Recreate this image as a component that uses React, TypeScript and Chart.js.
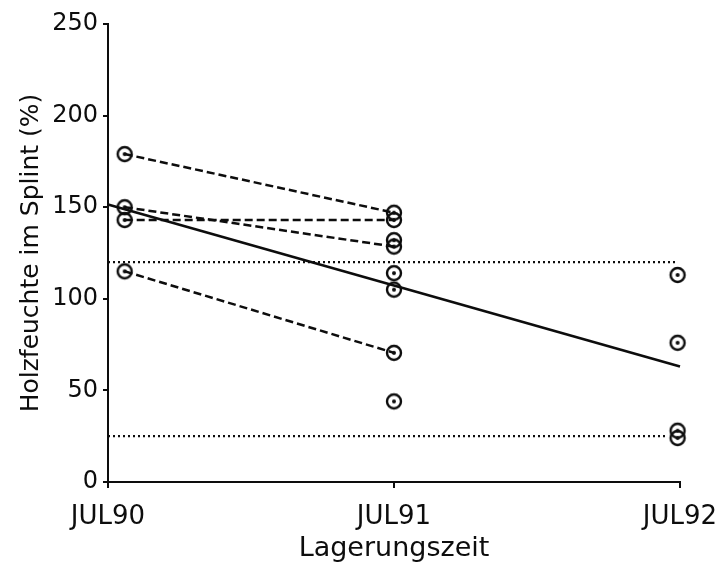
import { useEffect, useRef } from 'react';
import { Chart, registerables } from 'chart.js';

Chart.register(...registerables);

// x axis: months since JUL90
const xTickValues = [0, 12, 24];
const xTickLabels = ['JUL90', 'JUL91', 'JUL92'];

// sampling positions (months since JUL90)
const sampleX = [0.7, 12, 23.9];
const moistureJul90 = [179, 150, 143, 115];
const moistureJul91 = [147, 143, 132, 128.5, 114, 105, 70.5, 44];
const moistureJul92 = [113, 76, 28, 24];

// paired (dashed) connections JUL90 -> JUL91
const pairedStart = [179, 150, 143, 115];
const pairedEnd = [147, 128.5, 143, 70.5];

// regression line
const regressionX = [0, 24];
const regressionY = [151.5, 63];

// dotted reference levels
const thresholdLevels = [120, 25];
const thresholdStart = [0, 0];
const thresholdEnd = [23.9, 23.4];

const INK = '#0d0d0d';
const FONT = 'DejaVu Sans';

function makeMarker(): HTMLCanvasElement {
  const c = document.createElement('canvas');
  c.width = 22;
  c.height = 22;
  const ctx = c.getContext('2d')!;
  ctx.strokeStyle = INK;
  ctx.lineWidth = 2.4;
  ctx.beginPath();
  ctx.arc(11, 11, 7, 0, Math.PI * 2);
  ctx.stroke();
  ctx.fillStyle = INK;
  ctx.beginPath();
  ctx.arc(11, 11, 2, 0, Math.PI * 2);
  ctx.fill();
  return c;
}

export default function App() {
  const ref = useRef<HTMLCanvasElement | null>(null);

  useEffect(() => {
    if (!ref.current) return;
    const marker = makeMarker();

    const points = [
      ...moistureJul90.map((y) => ({ x: sampleX[0], y })),
      ...moistureJul91.map((y) => ({ x: sampleX[1], y })),
      ...moistureJul92.map((y) => ({ x: sampleX[2], y })),
    ];

    const datasets: any[] = [];

    thresholdLevels.forEach((lvl, i) => {
      datasets.push({
        data: [
          { x: thresholdStart[i], y: lvl },
          { x: thresholdEnd[i], y: lvl },
        ],
        showLine: true,
        borderColor: INK,
        borderWidth: 2.3,
        borderDash: [2, 3],
        pointRadius: 0,
        clip: false,
      });
    });

    pairedStart.forEach((s, i) => {
      datasets.push({
        data: [
          { x: sampleX[0], y: s },
          { x: sampleX[1], y: pairedEnd[i] },
        ],
        showLine: true,
        borderColor: INK,
        borderWidth: 2.5,
        borderDash: [8, 4],
        pointRadius: 0,
        clip: false,
      });
    });

    datasets.push({
      data: regressionX.map((x, i) => ({ x, y: regressionY[i] })),
      showLine: true,
      borderColor: INK,
      borderWidth: 2.6,
      pointRadius: 0,
      clip: false,
    });

    datasets.push({
      data: points,
      showLine: false,
      pointStyle: marker,
      pointRadius: 9,
      clip: false,
    });

    const chart = new Chart(ref.current, {
      type: 'scatter',
      data: { datasets },
      options: {
        animation: false,
        responsive: false,
        events: [],
        layout: { padding: { top: 24, right: 37, left: 0, bottom: 0 } },
        plugins: {
          legend: { display: false },
          tooltip: { enabled: false },
        },
        scales: {
          x: {
            type: 'linear',
            min: 0,
            max: 24,
            afterBuildTicks: (scale: any) => {
              scale.ticks = xTickValues.map((v) => ({ value: v }));
            },
            afterFit: (scale: any) => {
              scale.height = 80;
              scale.paddingLeft = 0;
              scale.paddingRight = 0;
            },
            ticks: {
              color: INK,
              font: { family: FONT, size: 26 },
              padding: 14,
              maxRotation: 0,
              callback: (v: any) => {
                const idx = xTickValues.indexOf(Number(v));
                return idx >= 0 ? xTickLabels[idx] : '';
              },
            },
            grid: {
              drawOnChartArea: false,
              drawTicks: true,
              tickLength: 6,
              color: INK,
              lineWidth: 2,
            },
            border: { display: true, color: INK, width: 2 },
            title: {
              display: true,
              text: 'Lagerungszeit',
              color: INK,
              font: { family: FONT, size: 27, lineHeight: 1.0 },
              padding: { top: 0, bottom: 0 },
            },
          },
          y: {
            type: 'linear',
            min: 0,
            max: 250,
            afterFit: (scale: any) => {
              scale.width = 108;
              scale.paddingTop = 0;
              scale.paddingBottom = 0;
            },
            ticks: {
              stepSize: 50,
              color: INK,
              font: { family: FONT, size: 24 },
              padding: 5,
            },
            grid: {
              drawOnChartArea: false,
              drawTicks: true,
              tickLength: 5,
              color: INK,
              lineWidth: 2,
            },
            border: { display: true, color: INK, width: 2 },
            title: {
              display: true,
              text: 'Holzfeuchte im Splint (%)',
              color: INK,
              font: { family: FONT, size: 25 },
              padding: { top: 16, bottom: 0 },
            },
          },
        },
      },
    });

    return () => chart.destroy();
  }, []);

  return (
    <div style={{ position: 'fixed', left: 0, top: 0, width: 717, height: 562, background: '#fff' }}>
      <canvas ref={ref} width={717} height={562} />
    </div>
  );
}
